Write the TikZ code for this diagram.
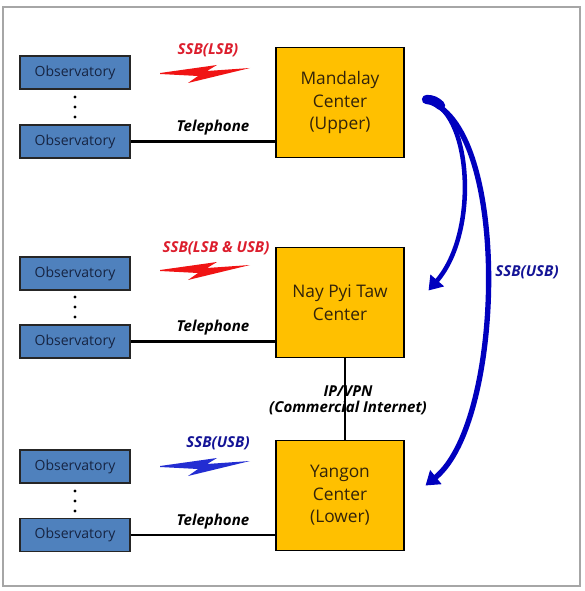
\documentclass[tikz,border=0pt]{standalone}
\usepackage{fontspec}
\setmainfont{Open Sans}
\usetikzlibrary{arrows.meta}

\definecolor{obsblue}{RGB}{79,129,189}
\definecolor{obstext}{RGB}{22,36,66}
\definecolor{centeryellow}{RGB}{255,192,0}
\definecolor{centertext}{RGB}{50,35,10}
\definecolor{ssbred}{RGB}{220,30,45}
\definecolor{boltred}{RGB}{240,20,20}
\definecolor{ssbblue}{RGB}{20,20,150}
\definecolor{boltblue}{RGB}{35,45,210}
\definecolor{funkblue}{RGB}{0,0,190}

\tikzset{bolt/.pic={\fill (-45,0) -- (12,-8) -- (2,-2) -- (45,-5) -- (-17,10) -- (-7,3) -- (-45,1) -- cycle;}}

\begin{document}
\begin{tikzpicture}[x=0.75pt,y=-0.75pt]
\useasboundingbox (0,0) rectangle (584,591);
\draw [line width=1.5, color=black!35] (3,7) rectangle (580,586);

\tikzstyle{Station} = [draw=black!85, fill=obsblue, line width=0.8, minimum width=82.5pt, minimum height=24.75pt, inner sep=0, text=obstext, font=\fontsize{10.5}{12}\selectfont]
\tikzstyle{Center} = [draw=black, fill=centeryellow, line width=0.8, minimum width=96pt, minimum height=83pt, inner sep=0, align=center, text=centertext, font=\fontsize{13}{17}\selectfont]
\tikzstyle{Label} = [font=\bfseries\itshape\fontsize{11.3}{12}\selectfont, inner sep=1]
\tikzstyle{Leitung} = [line width=1.6, color=black]
\tikzstyle{Funk} = [-{Triangle[width=13pt,length=10pt]}, color=funkblue]

% observatories
\node [Station] (o1) at (75,72.5) {Observatory};
\node [Station] (o2) at (75,141.5) {Observatory};
\node [Station] (o3) at (75,273.5) {Observatory};
\node [Station] (o4) at (75,341.5) {Observatory};
\node [Station] (o5) at (75,466.5) {Observatory};
\node [Station] (o6) at (75,535) {Observatory};
\fill (75,97) circle (1.6) (75,107) circle (1.6) (75,117) circle (1.6);
\fill (75,297) circle (1.6) (75,307) circle (1.6) (75,317) circle (1.6);
\fill (75,491) circle (1.6) (75,501) circle (1.6) (75,511) circle (1.6);

% centers
\node [Center] (m) at (340,102.5) {Mandalay\\Center\\(Upper)};
\node [Center] (n) at (340,302.5) {Nay Pyi Taw\\Center};
\node [Center] (y) at (340,495.5) {Yangon\\Center\\(Lower)};

% telephone
\draw [Leitung] (o2.east) -- (o2.east -| m.west);
\draw [Leitung] (o4.east) -- (o4.east -| n.west);
\draw [Leitung] (o6.east) -- (o6.east -| y.west);
\node [Label] (t1) at (213,128) {Telephone};
\node [Label] (t2) at (213,328) {Telephone};
\node [Label] (t3) at (213,522) {Telephone};

% internet
\draw [Leitung] ([xshift=3.75pt]n.south) -- ([xshift=3.75pt]y.north);
\node [Label, align=center, font=\bfseries\itshape\fontsize{11.3}{12}\selectfont] (ip) at (348,400) {IP/VPN\\(Commercial Internet)};

% radio
\node [Label, text=ssbred] (s1) at (208,50) {SSB(LSB)};
\node [Label, text=ssbred] (s2) at (216,248) {SSB(LSB \& USB)};
\node [Label, text=ssbblue] (s3) at (218,443) {SSB(USB)};
\node [Label, text=ssbblue] (s4) at (527,272) {SSB(USB)};
\pic [color=boltred] at (205,73) {bolt};
\pic [color=boltred] at (205,270) {bolt};
\pic [color=boltblue] at (205,466) {bolt};

\draw [line width=7pt, line cap=round, color=funkblue] ([shift={(22,-3)}]m.east) .. controls ([shift={(28,-3)}]m.east) and ([shift={(32,-1)}]m.east) .. ([shift={(36,3)}]m.east);
\draw [Funk, line width=3.4pt] ([shift={(21,-2)}]m.east) .. controls ([shift={(66,3)}]m.east) and ([shift={(76,128)}]m.east) .. ([shift={(24,-12)}]n.east);
\draw [Funk, line width=4pt] ([shift={(21,-2)}]m.east) .. controls ([shift={(106,18)}]m.east) and ([shift={(101,-75)}]y.east) .. ([shift={(21,-10)}]y.east);
\end{tikzpicture}
\end{document}
